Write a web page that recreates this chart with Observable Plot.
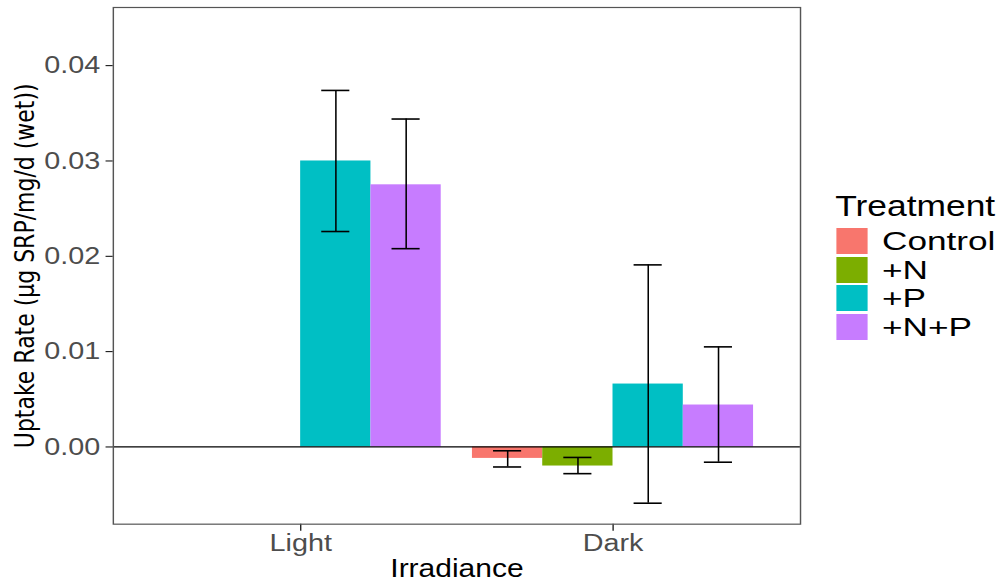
<!DOCTYPE html>
<html>
<head>
<meta charset="utf-8">
<script src="https://cdn.jsdelivr.net/npm/d3@7"></script>
<script src="https://cdn.jsdelivr.net/npm/@observablehq/plot@0.6"></script>
<style>
  body { margin: 0; background: #fff; overflow: hidden; font-family: "Liberation Sans", Arial, sans-serif; }
  #wrap { position: relative; width: 837.5px; height: 583px; transform: scaleX(1.2); transform-origin: 0 0; }
  #chart svg { display: block; font-family: "Liberation Sans", Arial, sans-serif; }
  #chart [aria-label="y-axis tick label"], #chart [aria-label="x-axis tick label"] { font-size: 24px; fill: #4d4d4d; }
  #chart [aria-label="y-axis label"] { font-size: 22px; font-family: "DejaVu Sans", sans-serif; fill: #000; }
  #chart [aria-label="x-axis label"] { font-size: 25px; fill: #000; }
  .lg-title { position: absolute; font-size: 29.5px; line-height: 0.9; color: #000; white-space: nowrap; }
  .lg-label { position: absolute; font-size: 25.5px; line-height: 0.9; color: #000; white-space: nowrap;
              transform: scaleX(1.15); transform-origin: 0 50%; }
  .lg-key { position: absolute; width: 26px; height: 26px; }
</style>
</head>
<body>
<div id="wrap"><div id="chart"></div></div>
<script>
// ---- data ----
const irradiance = ["Light", "Dark"];
const treatments = ["Control", "+N", "+P", "+N+P"];
const colors = ["#F8766D", "#7CAE00", "#00BFC4", "#C77CFF"];
const uptakeLight = [null, null, 0.0300, 0.0275];
const lowerLight  = [null, null, 0.0226, 0.0208];
const upperLight  = [null, null, 0.0374, 0.0344];
const uptakeDark  = [-0.0012, -0.0020, 0.0066, 0.0044];
const lowerDark   = [-0.0021, -0.0028, -0.0059, -0.0016];
const upperDark   = [-0.0004, -0.0011, 0.0191, 0.0105];
const yTicks = [0, 0.01, 0.02, 0.03, 0.04];

// ---- table built from the arrays (dodged positions on a linear x scale) ----
const dodge = 0.9, barW = dodge / treatments.length, capHalf = 0.045;
const series = [[uptakeLight, lowerLight, upperLight], [uptakeDark, lowerDark, upperDark]];
const table = [];
irradiance.forEach((g, gi) => {
  treatments.forEach((t, ti) => {
    const [v, lo, hi] = series[gi].map(a => a[ti]);
    if (v == null) return;
    const xc = gi + 1 + (ti - (treatments.length - 1) / 2) * barW;
    table.push({irradiance: g, treatment: t, value: v, lo, hi,
      xc, x1: xc - barW / 2, x2: xc + barW / 2, c1: xc - capHalf, c2: xc + capHalf});
  });
});

const plot = Plot.plot({
  width: 838,
  height: 583,
  marginLeft: 94,
  marginRight: 171,
  marginTop: 7,
  marginBottom: 59,
  style: {background: "transparent", overflow: "visible"},
  x: {
    domain: [0.4, irradiance.length + 0.6],
    ticks: irradiance.map((d, i) => i + 1),
    tickFormat: d => irradiance[d - 1],
    tickSize: 7, tickPadding: 3,
    label: "Irradiance", labelAnchor: "center", labelOffset: 53, labelArrow: "none"
  },
  y: {
    domain: [-0.0081, 0.0461],
    ticks: yTicks,
    tickFormat: d3.format(".2f"),
    tickSize: 6, tickPadding: 5,
    label: "Uptake Rate (µg SRP/mg/d (wet))", labelAnchor: "center", labelOffset: 82, labelArrow: "none"
  },
  color: {domain: treatments, range: colors},
  marks: [
    Plot.rect(table, {x1: "x1", x2: "x2", y1: () => 0, y2: "value", fill: "treatment"}),
    Plot.ruleY([0], {stroke: "#000", strokeWidth: 1.3}),
    Plot.ruleX(table, {x: "xc", y1: "lo", y2: "hi", stroke: "#000", strokeWidth: 1.3}),
    Plot.ruleY(table, {y: "hi", x1: "c1", x2: "c2", stroke: "#000", strokeWidth: 1.6}),
    Plot.ruleY(table, {y: "lo", x1: "c1", x2: "c2", stroke: "#000", strokeWidth: 1.6}),
    Plot.frame({stroke: "#555", strokeWidth: 1.2})
  ]
});
document.getElementById("chart").appendChild(plot);

// ---- legend (HTML) ----
const wrap = document.getElementById("wrap");
const title = document.createElement("div");
title.className = "lg-title";
title.textContent = "Treatment";
title.style.left = "696px";
title.style.top = "192.5px";
wrap.appendChild(title);
const pitch = 28.7;
treatments.forEach((t, i) => {
  const key = document.createElement("div");
  key.className = "lg-key";
  key.style.left = "697px";
  key.style.top = (228 + i * pitch) + "px";
  key.style.background = colors[i];
  wrap.appendChild(key);
  const lab = document.createElement("div");
  lab.className = "lg-label";
  lab.textContent = t;
  lab.style.left = "735px";
  lab.style.top = (241 + i * pitch - 11.2) + "px";
  wrap.appendChild(lab);
});
</script>
</body>
</html>
